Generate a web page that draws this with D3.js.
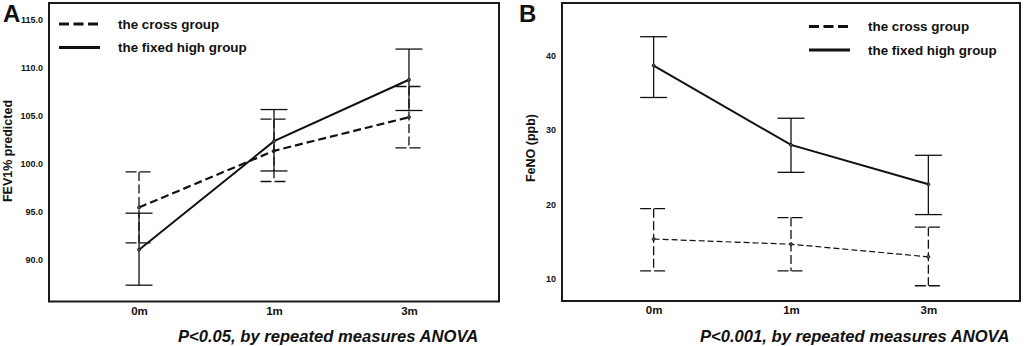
<!DOCTYPE html>
<html>
<head>
<meta charset="utf-8">
<script src="https://cdn.jsdelivr.net/npm/d3@7"></script>
<style>
  body { margin: 0; background: #fff; }
  text { font-family: "Liberation Sans", Arial, sans-serif; fill: #111; }
</style>
</head>
<body>
<svg id="chart" width="1026" height="346"></svg>
<script>
// time points
const times = ["0m", "1m", "3m"];

// panel A - FEV1% predicted
const fevCross = [95.4, 101.3, 104.8];
const fevCrossHi = [99.1, 104.6, 108.0];
const fevCrossLo = [91.7, 98.1, 101.6];
const fevFixed = [91.0, 102.3, 108.7];
const fevFixedHi = [94.8, 105.6, 111.9];
const fevFixedLo = [87.3, 99.2, 105.5];
const fevTicks = [90, 95, 100, 105, 110, 115];

// panel B - FeNO (ppb)
const fenoCross = [15.3, 14.6, 12.9];
const fenoCrossHi = [19.4, 18.2, 16.9];
const fenoCrossLo = [11.0, 11.0, 9.0];
const fenoFixed = [38.7, 28.0, 22.7];
const fenoFixedHi = [42.6, 31.6, 26.6];
const fenoFixedLo = [34.4, 24.3, 18.6];
const fenoTicks = [10, 20, 30, 40];

const legendNames = ["the cross group", "the fixed high group"];

const svg = d3.select("#chart");

function panel(opt) {
    const g = svg.append("g");
    const x = d3.scalePoint().domain(times).range([opt.left, opt.right]).padding(0.667);
    const y = d3.scaleLinear().domain(opt.domain).range([opt.bottom, opt.top]);

    // frame
    g.append("rect")
        .attr("x", opt.left).attr("y", opt.top)
        .attr("width", opt.right - opt.left).attr("height", opt.bottom - opt.top)
        .attr("fill", "none").attr("stroke", "#1a1a1a").attr("stroke-width", 2);

    // y axis
    const ya = g.append("g")
        .attr("transform", `translate(${opt.left},0)`)
        .call(d3.axisLeft(y).tickValues(opt.ticks).tickSize(0).tickPadding(6).tickFormat(opt.fmt));
    ya.select(".domain").remove();
    ya.selectAll("text").style("font-size", "9px").style("font-weight", "bold").style("font-family", "Liberation Sans, Arial, sans-serif").attr("fill", "#111");

    // x axis
    const xa = g.append("g")
        .attr("transform", `translate(0,${opt.bottom})`)
        .call(d3.axisBottom(x).tickSize(0).tickPadding(5));
    xa.select(".domain").remove();
    xa.selectAll("text").style("font-size", "11.5px").style("font-weight", "bold").style("font-family", "Liberation Sans, Arial, sans-serif").attr("fill", "#111");

    // y title
    g.append("text")
        .attr("transform", `translate(${opt.titleX},${opt.titleY}) rotate(-90)`)
        .attr("text-anchor", "middle")
        .attr("dy", "0.35em")
        .style("font-size", "12.5px").style("font-weight", "bold")
        .text(opt.title);

    // panel letter
    g.append("text")
        .attr("x", opt.letterX).attr("y", 22)
        .style("font-size", "24px").style("font-weight", "bold")
        .text(opt.letter);

    // footer
    g.append("text")
        .attr("x", opt.footX).attr("y", 342)
        .style("font-size", "16.6px").style("font-weight", "bold").style("font-style", "italic")
        .text(opt.foot);

    const series = [
        { mean: opt.cross, hi: opt.crossHi, lo: opt.crossLo, dash: opt.crossDash, width: opt.crossWidth, barDash: "9,3.5" },
        { mean: opt.fixed, hi: opt.fixedHi, lo: opt.fixedLo, dash: null, width: 2, barDash: null }
    ];

    series.forEach(s => {
        const pts = times.map((t, i) => ({ t: t, m: s.mean[i], hi: s.hi[i], lo: s.lo[i] }));

        // error bars
        const eb = g.append("g").attr("stroke", "#111").attr("stroke-width", 1.3).attr("fill", "none");
        eb.selectAll(".v").data(pts).join("line")
            .attr("x1", d => x(d.t)).attr("x2", d => x(d.t))
            .attr("y1", d => y(d.hi)).attr("y2", d => y(d.lo))
            .attr("stroke-dasharray", s.barDash);
        eb.selectAll(".capH").data(pts).join("line")
            .attr("x1", d => x(d.t) - 13.5).attr("x2", d => x(d.t) + 13.5)
            .attr("y1", d => y(d.hi)).attr("y2", d => y(d.hi))
            .attr("stroke-dasharray", s.barDash ? "11,3" : null);
        eb.selectAll(".capL").data(pts).join("line")
            .attr("x1", d => x(d.t) - 13.5).attr("x2", d => x(d.t) + 13.5)
            .attr("y1", d => y(d.lo)).attr("y2", d => y(d.lo))
            .attr("stroke-dasharray", s.barDash ? "11,3" : null);

        // mean line
        g.append("path")
            .datum(pts)
            .attr("fill", "none")
            .attr("stroke", "#111")
            .attr("stroke-width", s.width)
            .attr("stroke-dasharray", s.dash)
            .attr("d", d3.line().x(d => x(d.t)).y(d => y(d.m)));

        g.selectAll(null).data(pts).join("circle")
            .attr("cx", d => x(d.t)).attr("cy", d => y(d.m))
            .attr("r", 1.5).attr("fill", "#555").attr("stroke", "#111").attr("stroke-width", 0.8);
    });

    // legend
    const lg = g.append("g");
    legendNames.forEach((name, i) => {
        const ly = opt.legY + i * 23.5;
        lg.append("line")
            .attr("x1", opt.legX).attr("x2", opt.legX + 41)
            .attr("y1", ly).attr("y2", ly)
            .attr("stroke", "#111").attr("stroke-width", 3.2)
            .attr("stroke-dasharray", i == 0 ? "10,4.5" : null);
        lg.append("text")
            .attr("x", opt.legX + 59).attr("y", ly)
            .attr("dy", "0.35em")
            .style("font-size", "13.4px").style("font-weight", "bold")
            .text(name);
    });
}

panel({
    left: 49, right: 499, top: 3, bottom: 301.5,
    domain: [85.6, 116.7], ticks: fevTicks, fmt: d3.format(".1f"),
    title: "FEV1% predicted", titleX: 8, titleY: 151,
    letter: "A", letterX: 3,
    foot: "P<0.05, by repeated measures ANOVA", footX: 178,
    cross: fevCross, crossHi: fevCrossHi, crossLo: fevCrossLo, crossDash: "8,4", crossWidth: 2.2,
    fixed: fevFixed, fixedHi: fevFixedHi, fixedLo: fevFixedLo,
    legX: 59, legY: 24
});

panel({
    left: 562, right: 1020, top: 3, bottom: 301,
    domain: [6.94, 47.15], ticks: fenoTicks, fmt: d3.format("d"),
    title: "FeNO (ppb)", titleX: 531, titleY: 148,
    letter: "B", letterX: 519,
    foot: "P<0.001, by repeated measures ANOVA", footX: 700,
    cross: fenoCross, crossHi: fenoCrossHi, crossLo: fenoCrossLo, crossDash: "6,3", crossWidth: 1.2,
    fixed: fenoFixed, fixedHi: fenoFixedHi, fixedLo: fenoFixedLo,
    legX: 809, legY: 26.5
});
</script>
</body>
</html>
